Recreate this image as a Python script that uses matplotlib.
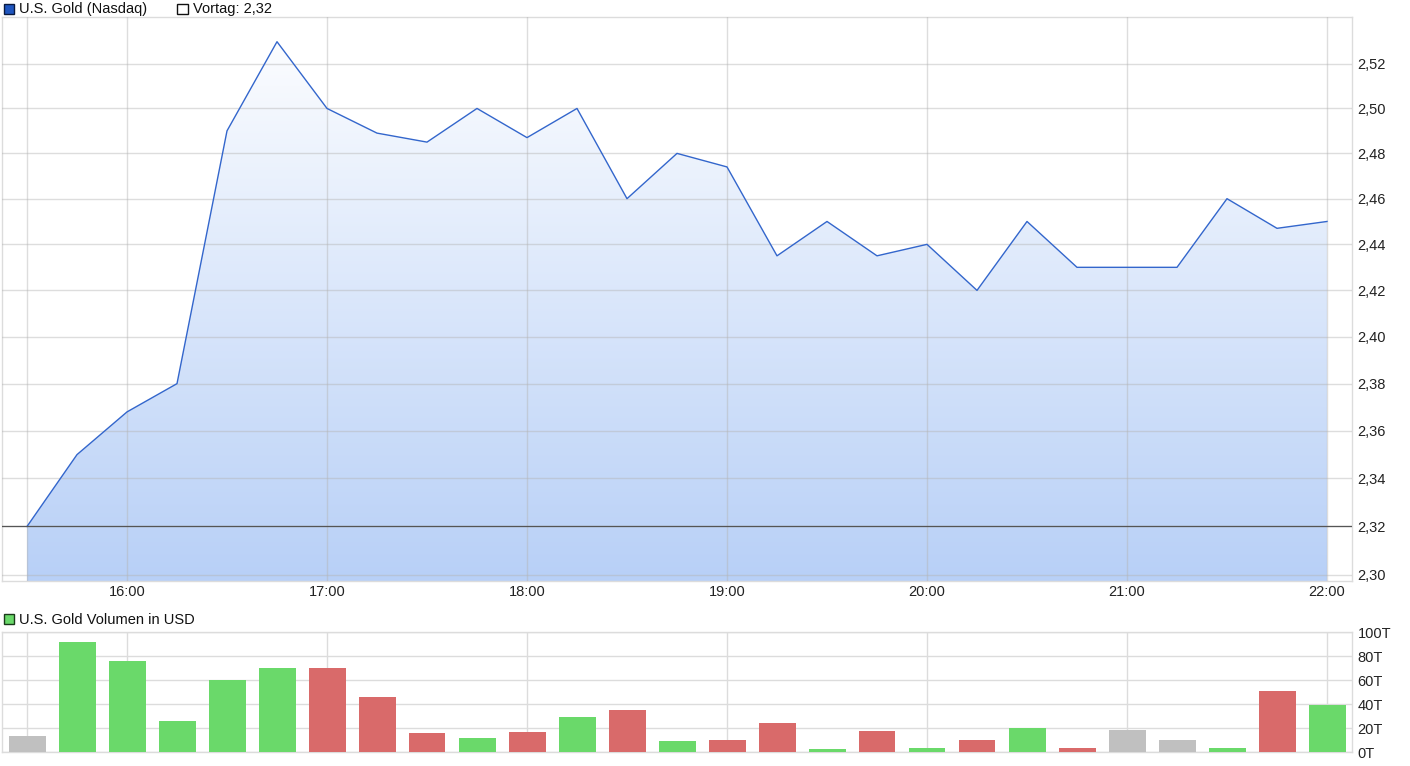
import numpy as np
import matplotlib
matplotlib.use("Agg")
import matplotlib.pyplot as plt
from matplotlib.ticker import FixedLocator, NullLocator, NullFormatter, FuncFormatter
from matplotlib.patches import Rectangle

plt.rcParams['font.family'] = ['Liberation Sans', 'DejaVu Sans']

# ---- data ----
times = ["15:30", "15:45", "16:00", "16:15", "16:30", "16:45", "17:00", "17:15", "17:30",
         "17:45", "18:00", "18:15", "18:30", "18:45", "19:00", "19:15", "19:30", "19:45",
         "20:00", "20:15", "20:30", "20:45", "21:00", "21:15", "21:30", "21:45", "22:00"]
price = [2.32, 2.35, 2.368, 2.38, 2.49, 2.53, 2.50, 2.489, 2.485,
         2.50, 2.487, 2.50, 2.46, 2.48, 2.474, 2.435, 2.45, 2.435,
         2.44, 2.42, 2.45, 2.43, 2.43, 2.43, 2.46, 2.447, 2.45]
volume_k = [13, 92, 76, 26, 60, 70, 70, 46, 16,
            11.5, 16.5, 29, 35, 9, 10, 24, 2.3, 17.3,
            3.1, 10, 20, 3.1, 18, 10, 3.4, 51, 39.5]
vol_dir = ["n", "u", "u", "u", "u", "u", "d", "d", "d",
           "u", "d", "u", "d", "u", "d", "d", "u", "d",
           "u", "d", "u", "d", "n", "n", "u", "d", "u"]
prev_close = 2.32
price_ticks = [2.30, 2.32, 2.34, 2.36, 2.38, 2.40, 2.42, 2.44, 2.46, 2.48, 2.50, 2.52]
vol_ticks = [0, 20, 40, 60, 80, 100]
hour_labels = ["16:00", "17:00", "18:00", "19:00", "20:00", "21:00", "22:00"]

# ---- style ----
W, H = 1410, 766
fig = plt.figure(figsize=(W / 100, H / 100), dpi=100)
fig.patch.set_facecolor('white')
grid_c = '#dcdcdc'
line_c = '#3366cc'
col_map = {"u": '#6ad96a', "d": '#d96a6a', "n": '#c0c0c0'}

x = np.arange(len(times))
hour_idx = [times.index(h) for h in hour_labels]

def px_axes(l, t, r, b):
    return fig.add_axes([l / W, 1 - b / H, (r - l) / W, (b - t) / H])

# ---- price panel ----
ax = px_axes(2, 17, 1352, 581)
ax.set_yscale('log')
ylo, yhi = 2.2975, 2.5412
ax.set_ylim(ylo, yhi)
ax.set_xlim(-0.5, len(times) - 0.5)

# gradient fill under the line
grad = np.linspace(0, 1, 256).reshape(-1, 1)
top_c = np.array([255, 255, 255]) / 255
bot_c = np.array([184, 208, 247]) / 255
img = top_c * (1 - grad[..., None]) + bot_c * grad[..., None]
img = img.reshape(256, 1, 3)
im = ax.imshow(img, extent=[x[0], x[-1], ylo, yhi], aspect='auto', origin='upper', zorder=1)
poly_x = np.concatenate([[x[0]], x, [x[-1]]])
poly_y = np.concatenate([[ylo], price, [ylo]])
patch = plt.Polygon(np.column_stack([poly_x, poly_y]), closed=True, transform=ax.transData,
                    facecolor='none', edgecolor='none')
ax.add_patch(patch)
im.set_clip_path(patch)

ax.plot(x, price, color=line_c, lw=1.0, zorder=4)
ax.axhline(prev_close, color='#555555', lw=0.9, zorder=5)

ax.yaxis.set_major_locator(FixedLocator(price_ticks))
ax.yaxis.set_minor_locator(NullLocator())
ax.yaxis.set_minor_formatter(NullFormatter())
ax.yaxis.set_major_formatter(FuncFormatter(lambda v, p: f"{v:.2f}".replace('.', ',')))
ax.set_xticks([0] + hour_idx)
ax.set_xticklabels([""] + hour_labels)
ax.yaxis.tick_right()
ax.tick_params(axis='both', length=0, labelsize=10.5, colors='#222222')
ax.tick_params(axis='y', pad=4)
ax.tick_params(axis='x', pad=3)
ax.grid(True, color='#b4b4b4', lw=1.0, alpha=0.45, zorder=2)
ax.set_axisbelow(False)
for s in ax.spines.values():
    s.set_color(grid_c)
    s.set_linewidth(1.0)

# ---- volume panel ----
av = px_axes(2, 632, 1352, 752)
av.set_xlim(-0.5, len(times) - 0.5)
av.set_ylim(0, 100)
av.bar(x, volume_k, width=0.74, color=[col_map[d] for d in vol_dir], zorder=3)
av.set_yticks(vol_ticks)
av.set_yticklabels([f"{v}T" for v in vol_ticks])
av.set_xticks([0] + hour_idx)
av.set_xticklabels([])
av.yaxis.tick_right()
av.tick_params(axis='both', length=0, labelsize=10.5, colors='#222222')
av.tick_params(axis='y', pad=4)
av.grid(True, color=grid_c, lw=1.0, zorder=0)
av.set_axisbelow(True)
for s in av.spines.values():
    s.set_color(grid_c)
    s.set_linewidth(1.0)

# ---- legend labels ----
def legend_box(px, py, fc, ec):
    fig.patches.append(Rectangle((px / W, 1 - (py + 10.5) / H), 10.5 / W, 10.5 / H,
                                 transform=fig.transFigure, facecolor=fc, edgecolor=ec,
                                 lw=1.0, figure=fig))

legend_box(3.5, 3.5, '#1f56c0', '#0a1a40')
fig.text(19 / W, 1 - 9.5 / H, "U.S. Gold (Nasdaq)", fontsize=10.5, va='center', ha='left', color='#111111')
legend_box(177.5, 3.5, 'white', '#111111')
fig.text(193 / W, 1 - 9.5 / H, "Vortag: 2,32", fontsize=10.5, va='center', ha='left', color='#111111')
legend_box(3.5, 613.5, '#6ad96a', '#1a3a1a')
fig.text(19 / W, 1 - 619.5 / H, "U.S. Gold Volumen in USD", fontsize=10.5, va='center', ha='left', color='#111111')

fig.savefig("out.png", dpi=100, facecolor='white')
